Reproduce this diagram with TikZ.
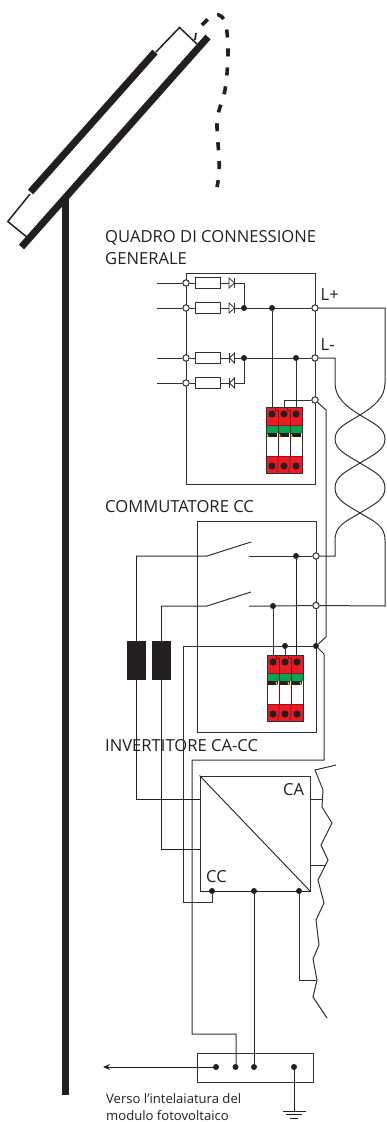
\documentclass[tikz,border=0pt]{standalone}
\usepackage{fontspec}
\setmainfont{Open Sans}
\usetikzlibrary{arrows.meta}
\definecolor{wirec}{HTML}{303030}
\definecolor{spdred}{HTML}{ED1C24}
\definecolor{spdgreen}{HTML}{00A651}
\definecolor{inkc}{HTML}{231F20}
\tikzset{
  wire/.style={draw=wirec,line width=1pt,line join=miter},
  thin wire/.style={draw=inkc,line width=0.9pt},
  boxline/.style={draw=wirec,line width=0.9pt,inner sep=0pt},
  heavy/.style={draw=inkc,line width=7pt},
  dot/.style={circle,fill=inkc,draw=none,inner sep=0pt,minimum size=6pt},
  ring/.style={circle,fill=white,draw=wirec,line width=0.9pt,inner sep=0pt,minimum size=6.2pt},
  fuse/.style={rectangle,fill=white,draw=wirec,line width=0.8pt,inner sep=0pt,minimum width=25pt,minimum height=10.5pt},
  label/.style={anchor=base west,inner sep=0pt,text=inkc,font=\fontsize{16.6}{18}\selectfont},
  small/.style={anchor=base west,inner sep=0pt,text=inkc,font=\fontsize{13.1}{15}\selectfont},
  blockb/.style={rectangle,fill=inkc,draw=none,inner sep=0pt,minimum width=19pt,minimum height=39pt},
}
% surge arrester: #1 left x, #2 top y, #3 yellow tick offset
\newcommand{\spdbox}[3]{%
  \begin{scope}[shift={(#1,#2)}]
    \fill[white] (0,0) rectangle (36,66);
    \fill[spdred] (0,0) rectangle (36,18);
    \fill[spdgreen] (0,18.5) rectangle (36,26);
    \fill[spdred] (0,49) rectangle (36,66);
    \foreach \cx in {0,12,24}{
      \fill[inkc] (\cx+1,26) rectangle (\cx+11,30);
      \draw[yellow,line width=0.9pt] (\cx+#3,27) -- (\cx+#3+1.2,30);
      \fill[inkc] (\cx+6,7) circle (3.6);
      \fill[inkc] (\cx+6,59) circle (3.6);
    }
    \foreach \cx in {12,24}{
      \draw[black!50!spdred,line width=0.7pt] (\cx,18) -- (\cx,49);
      \draw[black!50!spdred,line width=0.7pt] (\cx-3,0) -- (\cx-3,3) -- (\cx,3) -- (\cx,18);
      \draw[black!50!spdred,line width=0.7pt] (\cx,49) -- (\cx,60) -- (\cx-1,62) -- (\cx-1,66);
    }
    \draw[black!35!spdred,line width=0.6pt] (0,18) -- (36,18) (0,49) -- (36,49);
    \draw[wirec,line width=0.6pt] (0,0) rectangle (36,66);
  \end{scope}}
\newcommand{\diodeR}[1]{\draw[wirec,line width=0.8pt,fill=white] (229,#1-5) -- (229,#1+5) -- (234.5,#1) -- cycle;
  \draw[wirec,line width=0.9pt] (234.5,#1-5) -- (234.5,#1+5);}
\newcommand{\diodeL}[1]{\draw[wirec,line width=0.8pt,fill=white] (234.5,#1-5) -- (234.5,#1+5) -- (229.5,#1) -- cycle;
  \draw[wirec,line width=0.9pt] (229.5,#1-5) -- (229.5,#1+5);}
\begin{document}
\begin{tikzpicture}[x=1pt,y=-1pt]
\useasboundingbox (0,0) rectangle (386,1122);

% --- module and post
\draw[heavy] (65.5,197) -- (65.5,1095);
\draw[heavy] (21.5,247) -- (208,37);
\draw[heavy] (30.5,192) -- (155,52);
\draw[inkc,line width=1.5pt] (30,194) -- (7.8,221.5) -- (28,238);
\draw[inkc,line width=1.5pt] (156,52) -- (179.5,27.5) -- (197,44);
\draw[inkc,line width=1.7pt] (196,33) -- (195,40);
\draw[inkc,line width=3.6pt,dash pattern=on 8pt off 11pt]
  (202,25) -- (209,18) .. controls (214,13) and (222,13) .. (225,22)
  .. controls (229,35) and (229,65) .. (225,90)
  .. controls (222,105) and (217,110) .. (217,125)
  .. controls (217,145) and (222,165) .. (217,187);

% --- labels
\node[label] (tq1) at (105,242) {QUADRO DI CONNESSIONE};
\node[label] (tq2) at (105,264.5) {GENERALE};
\node[label] (tc) at (105,512) {COMMUTATORE CC};
\node[label] (ti) at (105,751.5) {INVERTITORE CA-CC};
\node[label] (tlp) at (320.5,300) {L+};
\node[label] (tlm) at (320.5,350) {L-};
\node[label] (tca) at (283,795) {CA};
\node[label] (tcc) at (206,882) {CC};
\node[small] (tv1) at (106,1103) {Verso l’intelaiatura del};
\node[small] (tv2) at (106,1120.5) {modulo fotovoltaico};

% --- combiner box
\node[boxline,minimum width=129pt,minimum height=211pt] (qbox) at (250.5,378.5) {};
\node[ring] (r1) at (186,283) {};
\node[ring] (r2) at (186,308) {};
\node[ring] (r3) at (186,358) {};
\node[ring] (r4) at (186,383) {};
\node[ring] (rp) at (315,308) {};
\node[ring] (rm) at (315,358) {};
\node[ring] (re) at (315,400) {};
\node[dot] (d1) at (244,308) {};
\node[dot] (d2) at (272,308) {};
\node[dot] (d3) at (244,358) {};
\node[dot] (d4) at (296,358) {};
\coordinate (i1) at (157,283);
\coordinate (i2) at (157,308);
\coordinate (i3) at (157,358);
\coordinate (i4) at (157,383);
\draw[wire] (i1) -- (r1) -- (r1 -| d1) -- (d1);
\draw[wire] (i2) -- (r2) -- (d1) -- (d2) -- (rp);
\draw[wire] (i3) -- (r3) -- (d3) -- (d4) -- (rm);
\draw[wire] (i4) -- (r4) -- (r4 -| d3) -- (d3);
\node[fuse] (f1) at (207.5,283) {};
\node[fuse] (f2) at (207.5,308) {};
\node[fuse] (f3) at (207.5,358) {};
\node[fuse] (f4) at (207.5,383) {};
\diodeR{283}\diodeR{308}\diodeL{358}\diodeL{383}
\foreach \n in {r1,r2,r3,r4,rp,rm,re}{\node[ring] at (\n) {};}

% --- first arrester
\coordinate (s1a) at (272,407);
\coordinate (s1b) at (284,407);
\coordinate (s1c) at (296,407);
\draw[wire] (d2) -- (s1a);
\draw[wire] (d4) -- (s1c);
\draw[wire] (re) -- (re -| s1b) -- (s1b);
\spdbox{266}{407}{1}

% --- twisted pair
\node[ring] (sp) at (316,556) {};
\node[ring] (sm) at (316,605.5) {};
\draw[wire] (rp) -- (385,308) -- (385,383)
  .. controls (385,398) and (373,407) .. (360,415)
  .. controls (347,423) and (335,428) .. (335,439)
  .. controls (335,450) and (347,455) .. (360,463)
  .. controls (373,471) and (385,476) .. (385,488)
  .. controls (385,500) and (373,505) .. (360,513)
  .. controls (347,521) and (335,525) .. (335,540)
  -- (335,556) -- (sp);
\draw[wire] (rm) -- (335,358) -- (335,383)
  .. controls (335,398) and (347,407) .. (360,415)
  .. controls (373,423) and (385,428) .. (385,439)
  .. controls (385,450) and (373,455) .. (360,463)
  .. controls (347,471) and (335,476) .. (335,488)
  .. controls (335,500) and (347,505) .. (360,513)
  .. controls (373,521) and (385,525) .. (385,540)
  -- (385,606) -- (sm);

% --- DC switch box
\node[boxline,minimum width=119pt,minimum height=211pt] (cbox) at (256.5,626.5) {};
\node[dot] (d5) at (296,556) {};
\node[dot] (d6) at (273,606) {};
\node[dot] (d7) at (285,646) {};
\node[dot] (d8) at (316,646) {};
\coordinate (sw1a) at (207,556);
\coordinate (sw1b) at (251,542);
\coordinate (sw1c) at (249,556);
\coordinate (sw2a) at (207,606);
\coordinate (sw2b) at (251,592);
\coordinate (sw2c) at (249,606);
\coordinate (wl1) at (136,556);
\coordinate (wl2) at (161,606);
\draw[wire] (wl1) -- (sw1a) -- (sw1b);
\draw[wire] (wl2) -- (sw2a) -- (sw2b);
\draw[wire] (sw1c) -- (d5) -- (sp);
\draw[wire] (sw2c) -- (d6) -- (sm);
\node[ring] at (sp) {};
\node[ring] at (sm) {};
\coordinate (s2a) at (273,655);
\coordinate (s2b) at (285,655);
\coordinate (s2c) at (296,655);
\draw[thin wire] (d5) -- (s2c);
\draw[wire] (d6) -- (s2a);
\draw[wire] (d7) -- (s2b);
\coordinate (lf) at (183,646);
\draw[wire] (d8) -- (d7) -- (lf);
\spdbox{267}{655}{9}
\node[blockb] (b1) at (136.5,660.5) {};
\node[blockb] (b2) at (161.5,660.5) {};

% --- earth bus wires from the combiner ring
\draw[wire] (re) -- (326,410) -- (326,637) -- (d8);
\draw[wire] (d8) -- (324,654) -- (324,760) -- (192,760) -- (192,1034) -- (236,1034) -- (236,1067);

% --- inverter
\node[boxline,minimum width=110pt,minimum height=115pt] (inv) at (255,833.5) {};
\draw[thin wire] (inv.north west) -- (inv.south east);
\draw[inkc,line width=1.2pt] (inv.south west) -- (inv.south east);
\node[dot] (d9) at (212,891) {};
\node[dot] (d10) at (254,891) {};
\node[dot] (d11) at (299,891) {};
\draw[thin wire] (wl1) -- (136,799) -- (200,799);
\draw[thin wire] (wl2) -- (161,849) -- (200,849);
\draw[wire] (lf) -- (183,902) -- (212,902) -- (d9);
\draw[wire] (d11) -- (299,980) -- (316,980);
\draw[wire] (310,799.5) -- (323,799.5);
\draw[wire] (310,865.5) -- (325,865.5);
\draw[wire] (336,765) -- (315,770) -- (323,790) -- (322,807) -- (332,823) -- (321,845) -- (328,860) -- (318,880) -- (324,903) -- (316,920) -- (319,945) -- (313,959) -- (317,980) -- (313,997) -- (327,1018);

% --- earth bar
\node[boxline,minimum width=116pt,minimum height=29pt] (bar) at (255,1067.5) {};
\node[dot] (g1) at (216,1067) {};
\node[dot] (g2) at (235.5,1067) {};
\node[dot] (g3) at (254,1067) {};
\node[dot] (g4) at (294,1067) {};
\coordinate (fr) at (103,1067);
\draw[thin wire,-{Stealth[length=7pt,width=6pt]}] (g1) -- (fr);
\draw[thin wire] (d10) -- (g3);
\coordinate (gnd) at (294,1111);
\draw[thin wire] (g4) -- (gnd);
\draw[thin wire] (282.5,1111) -- (305.5,1111);
\draw[thin wire] (286,1114.5) -- (302,1114.5);
\draw[thin wire] (290,1118) -- (298,1118);
\end{tikzpicture}
\end{document}
